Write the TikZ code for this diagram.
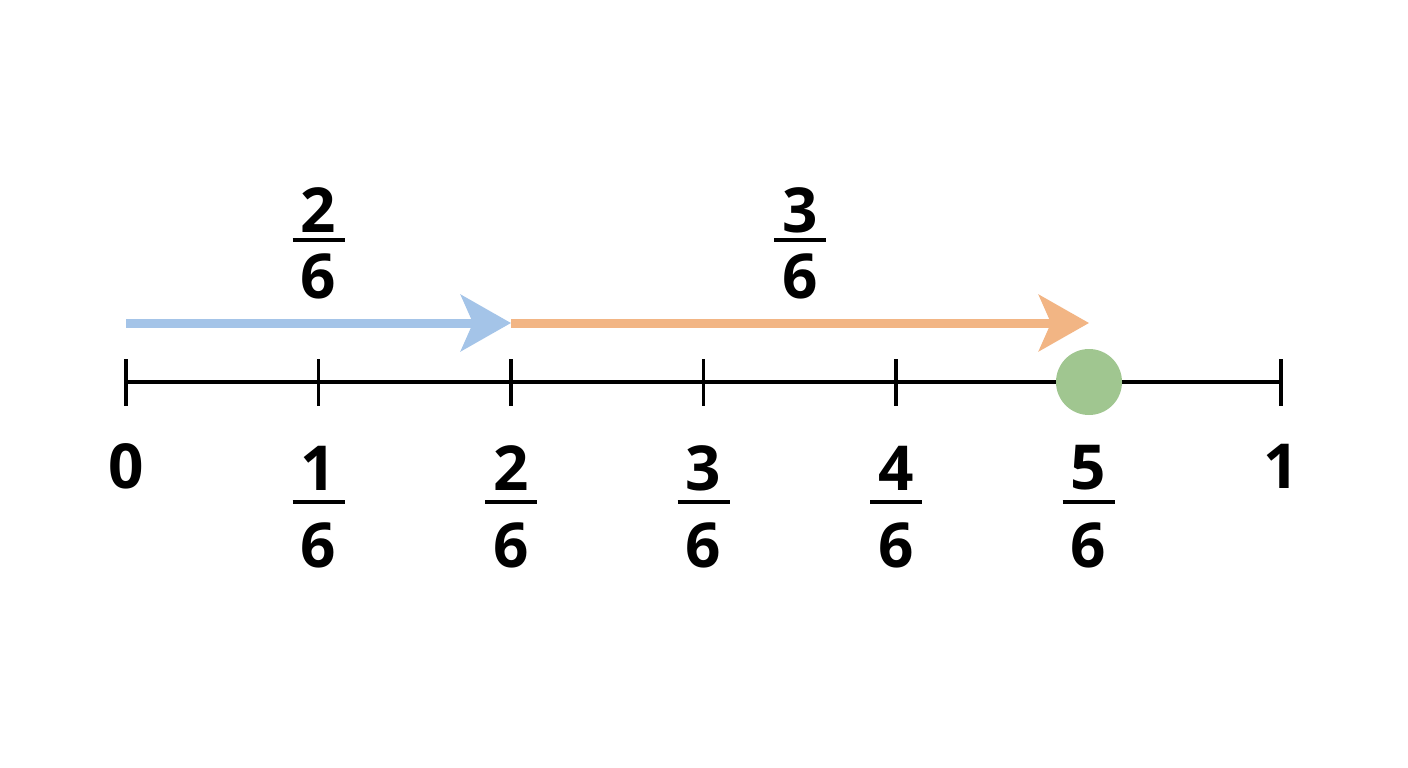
\documentclass[tikz,border=0pt]{standalone}
\usepackage{fontspec}
\setmainfont{Open Sans}[FontFace={sb}{n}{Font=* Semibold}]
\usetikzlibrary{arrows.meta}
\definecolor{blu}{HTML}{A4C4E8}
\definecolor{org}{HTML}{F2B584}
\definecolor{grn}{HTML}{A0C690}
\begin{document}
\begin{tikzpicture}[x=1pt,y=-1pt,
  lab/.style={font=\fontsize{62}{62}\selectfont\bfseries, inner sep=0pt, anchor=center},
  bar/.style={line width=3.5pt},
  tick/.style={line width=3.5pt}]
\useasboundingbox (0,0) rectangle (1408,768);
\fill[white] (0,0) rectangle (1408,768);
% axis
\coordinate (L) at (126,382); \coordinate (R) at (1281,382);
\draw[line width=3.5pt] (L) -- (R);
\foreach \i/\x in {0/126,1/318.5,2/511,3/703.5,4/896,5/1088.5,6/1281}{
  \coordinate (t\i) at (\x,382);
  \draw[tick] (\x,359) -- (\x,406);
}
\node[lab] (z) at (126,466) {0};
\node[lab] (o) at (1281,466) {1};
\foreach \i/\x in {1/318.5,2/511,3/703.5,4/896,5/1088.5}{
  \node[lab] (n\i) at (\x,468) {\i};
  \draw[bar] (\x-26,502) -- (\x+26,502);
  \node[lab] (d\i) at (\x,545) {6};
}
% top fractions
\node[lab] (a1) at (318.5,210) {2};
\draw[bar] (292.5,240) -- (344.5,240);
\node[lab] (a2) at (318.5,276) {6};
\node[lab] (b1) at (800,210) {3};
\draw[bar] (774,240) -- (826,240);
\node[lab] (b2) at (800,276) {6};
% arrows
\coordinate (A0) at (126,323); \coordinate (A1) at (511,323); \coordinate (A2) at (1089,323);
\draw[blu, line width=9pt, -{Stealth[length=50pt,width=56pt,inset=12pt]}] (A0) -- (A1);
\draw[org, line width=9pt, -{Stealth[length=50pt,width=56pt,inset=12pt]}] (A1) -- (A2);
\fill[grn] (1089,382) circle (33);
\end{tikzpicture}
\end{document}
